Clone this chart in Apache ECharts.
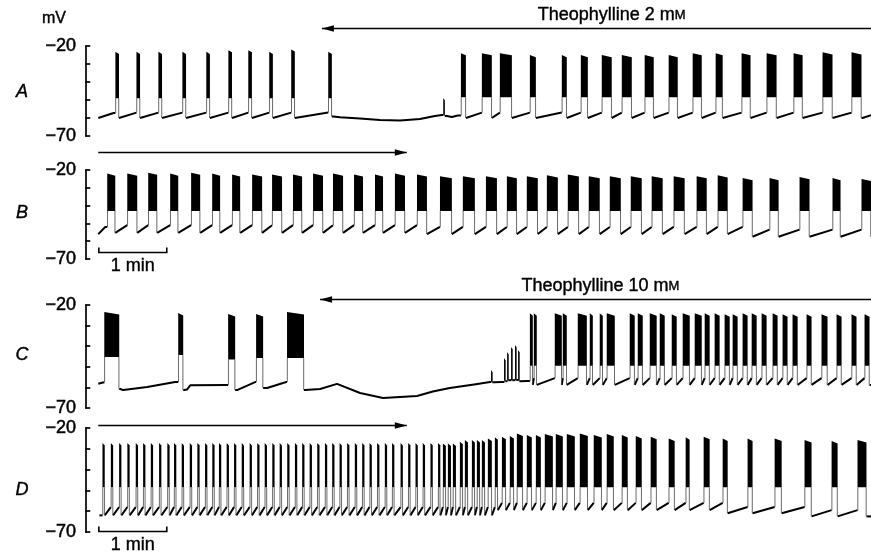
<!DOCTYPE html>
<html><head><meta charset="utf-8">
<script src="https://cdn.jsdelivr.net/npm/echarts/dist/echarts.min.js"></script>
<style>html,body{margin:0;padding:0;background:#fff}#c{width:871px;height:554px}</style>
</head><body><div id="c"></div>
<script>
// ---------- time axis (s) ----------
const X_MIN = -2, X_MAX = 694;
const Y_MIN = -70, Y_MAX = -20;

// ---------- Panel A (theophylline 2 mM applied) ----------
const A_start = [26.6, 45.2, 64.6, 85.8, 106.9, 126.4, 144.0, 162.5, 181.9, 214.6, 316.2, 331.8, 350.3, 366.2, 392.7, 420.9, 437.7, 456.2, 473.9, 494.1, 515.3, 536.5, 556.8, 579.7, 601.8, 625.6, 651.2, 676.8];
const A_end   = [29.8, 48.4, 67.8, 89.0, 110.1, 129.6, 147.2, 165.7, 185.1, 217.8, 317.6, 336.2, 359.1, 376.8, 398.0, 425.3, 443.9, 465.0, 482.7, 502.1, 523.3, 544.5, 563.0, 587.6, 610.6, 633.6, 660.0, 685.6];
const A_peak  = [-23.2, -23.2, -23.2, -23.2, -23.2, -22.3, -22.3, -23.2, -21.9, -23.2, -49, -24, -24, -24, -25, -25, -25, -25, -25, -25, -25, -24, -24, -24, -24, -24, -23.5, -23.5];
const A_floor = [-49, -49, -49, -49, -49, -49, -49, -49, -49, -49, -58.5, -48.5, -48.5, -48.5, -48.5, -48.5, -48.5, -48.5, -48.5, -48.5, -48.5, -48.5, -48.5, -48.5, -48.5, -48.5, -48.5, -48.5];
const A_levels = [[0, -60, -57]];            // [from t, nadir after burst, level before next burst]
const A_quiet = [[11.5, -60], [25, -57.2],
  [219, -59.2], [225, -59.6], [242.6, -60.3], [260.3, -61.1], [278, -61.4], [295.6, -60.6], [308.8, -58.9], [315, -58.3],
  [319.4, -58.9], [323.8, -59.4], [329, -58.6],
  [686.5, -60], [694, -58.5]];

// ---------- Panel B (wash) ----------
const B_start = [19.4, 37.1, 55.6, 75.0, 93.5, 112.1, 129.7, 147.4, 165.0, 183.5, 201.2, 218.8, 237.4, 255.9, 273.5, 293.0, 313.3, 333.5, 353.9, 372.4, 390.0, 407.7, 426.2, 444.7, 463.3, 481.8, 500.3, 519.7, 540.0, 558.6, 580.6, 604.4, 630.9, 660.0, 685.6];
const B_end   = [26.5, 45.9, 63.5, 82.1, 101.5, 119.1, 136.8, 156.2, 173.8, 191.5, 210.0, 227.7, 245.3, 263.0, 282.4, 301.8, 323.8, 344.1, 363.6, 381.2, 399.7, 417.4, 436.0, 454.4, 473.0, 491.5, 510.0, 529.4, 548.9, 567.4, 589.4, 612.4, 639.7, 667.1, 694];
const B_peak  = [-22, -22, -21.5, -22, -21.5, -22, -22.5, -22.5, -22.5, -22.5, -22, -22, -22.5, -22.5, -22, -22.5, -23.5, -23.5, -23.5, -23.5, -23.5, -23, -22.5, -23.5, -23.5, -23.5, -23.5, -23.5, -23.5, -23, -24.5, -24.5, -24, -24.5, -25];
const B_floor = -43;
const B_levels = [[0, -55.3, -51], [300, -56, -52], [580, -57.5, -53.5]];
const B_quiet = [[11.5, -56], [17.6, -52]];

// ---------- Panel C (theophylline 10 mM applied) ----------
const C_start = [16.8, 82.1, 126.2, 150.9, 178.2,
  358.7, 370.2, 372.9, 376.4, 379.9, 382.6,
  392.7, 396.2, 414.7, 421.8, 435.0, 445.6, 454.4, 460.6, 480.9, 488.0, 498.6, 507.4, 518.0, 527.7, 538.3, 547.1, 555.9, 564.7, 571.8, 580.6, 588.6, 597.4, 607.1, 615.9, 624.7, 637.1, 650.3, 663.6, 676.8, 688.3];
const C_end   = [30.0, 86.5, 132.4, 157.1, 193.2,
  359.5, 371.0, 373.7, 377.2, 380.7, 383.4,
  395.3, 398.8, 420.9, 425.3, 443.0, 448.3, 457.1, 467.7, 485.3, 492.4, 504.7, 511.8, 522.4, 533.9, 544.5, 551.5, 560.3, 569.2, 576.2, 585.0, 593.0, 601.8, 611.5, 620.3, 629.2, 641.5, 655.6, 668.0, 681.2, 692.7];
const C_peak  = [-23.4, -23.9, -24.4, -24.4, -23.4,
  -51.6, -45.7, -42.8, -40.4, -39.4, -41.8,
  -24, -24, -24, -24, -24, -24, -24, -24, -24, -24, -24, -24, -24.5, -24, -24, -24, -24, -24.5, -24.5, -24, -24, -24, -24, -24.5, -24.5, -24.5, -24.5, -24.5, -24.5, -24.5];
const C_floor = [-45.2, -44.3, -46.5, -45.7, -45.7,
  -57.2, -56.8, -56.6, -56.5, -56.4, -56.6,
  -49.5, -49.5, -49.5, -49.5, -49.5, -49.5, -49.5, -49.5, -49.5, -49.5, -49.5, -49.5, -49.5, -49.5, -49.5, -49.5, -49.5, -49.5, -49.5, -49.5, -49.5, -49.5, -49.5, -49.5, -49.5, -49.5, -49.5, -49.5, -49.5, -49.5];
const C_levels = [[0, -61, -57.5], [390, -58.8, -55.5]];
const C_quiet = [[11.5, -58.2], [15.5, -57.6],
  [31, -60.8], [33.5, -61.3], [54.7, -59.8], [79.4, -57.4],
  [87.4, -61.3], [90, -61], [92.7, -59], [125.3, -58.8],
  [134.1, -61.3], [150, -57.4],
  [160.6, -60.3], [177.5, -57.4],
  [194.1, -61.3], [207.4, -60.8], [222.4, -58.3], [242.7, -62.7], [263, -65.1], [293, -64.2], [307, -62], [322, -60.3], [345, -58.5], [357.4, -57.4],
  [361, -57.5], [368, -57.4], [371.5, -57], [374.5, -56.5], [378, -56.5], [381.5, -56.4], [384, -57], [390, -56.9]];

// ---------- Panel D (wash) ----------
const D_spikeTimes = [16.2, 23.6, 30.9, 38.2, 45.6, 52.1, 58.9, 66.2, 73.5, 79.4, 86.2, 93.3, 100.0, 106.8, 113.2, 119.1, 125.9, 132.4, 139.2, 146.2, 152.9, 159.5, 166.2, 172.7, 179.4, 186.2, 192.6, 199.2, 205.9, 212.7, 219.1, 225.6, 232.3, 239.1, 245.6, 252.1, 258.8, 265.6, 272.0, 279.5, 286.2, 292.7, 299.1, 305.9, 312.6];
const D_spikeWidth = 2.0;
const D_spikePeak = -27.2;
const D_start = [315.9, 320.3, 324.7, 330.9, 335.3, 341.5, 345.9, 350.3, 355.6, 361.8, 368.0, 375.0, 381.2, 390.0, 398.0, 405.9, 415.6, 425.3, 436.8, 449.1, 460.6, 473.9, 486.2, 499.4, 515.3, 530.3, 546.2, 563.0, 585.0, 608.9, 635.3, 659.2, 682.1];
const D_end   = [318.5, 323.0, 327.4, 333.5, 338.0, 344.1, 348.6, 353.0, 359.1, 364.4, 371.5, 378.6, 386.5, 394.4, 402.4, 413.0, 421.8, 432.4, 443.9, 456.2, 466.8, 479.1, 491.5, 504.7, 520.6, 533.8, 551.5, 567.4, 589.4, 615.1, 641.5, 664.5, 690.0];
const D_peak  = [-27.4, -27.4, -27.4, -26.6, -25.8, -25.8, -25.8, -25.8, -25, -24.5, -24.2, -23.8, -22.6, -23.4, -23.4, -22.9, -22.9, -22.9, -22.6, -23.4, -22.9, -23.4, -23.8, -24.2, -25, -24.5, -24.2, -25, -25, -25, -25.8, -26.2, -25.8];
const D_floor = -48.5;
const D_levels = [[0, -62, -58], [360, -59.5, -56], [560, -61, -58], [640, -62.5, -59.5]];
const D_quiet = [[12.5, -62], [15.5, -58.5]];

// ---------- annotations (times in s, levels in mV of the panel) ----------
const arrowFrom  = [209, 11.5, 207.4, 11.5];
const arrowTo    = [694, 284, 694, 284];
const arrowLevel = [-10, -10, -17.1, -18.6];
const arrowHead  = ['left', 'right', 'left', 'right'];
const drugText   = ['Theophylline 2 m', '', 'Theophylline 10 m', ''];
const drugTextAt = [465, 0, 455, 0];
const scaleBarPanels = [1, 3];
const scaleBarSec = [12, 72];
const scaleBarLevel = [-66, -69.3];
const panelNames = ['A', 'B', 'C', 'D'];

// ---------- build ----------
const FONT = '"Liberation Sans", Arial, Helvetica, sans-serif';
const pick = (v, i) => Array.isArray(v) ? v[i] : v;
function levelAt(levels, t) { let L = levels[0]; for (const l of levels) if (l[0] <= t) L = l; return L; }

function buildPanel(p) {
  const n = p.start.length, q = p.quiet, segs = [], nad = [], pre = [];
  const before = q.filter(pt => pt[0] < p.start[0]);
  let pre0 = levelAt(p.levels, p.start[0])[2];
  if (before.length) {
    pre0 = before[before.length - 1][1];
    segs.push(before.concat([[p.start[0], pre0]]));
  }
  pre.push(pre0);
  for (let i = 0; i < n; i++) {
    const e = p.end[i], last = i + 1 >= n, s = last ? X_MAX + 1 : p.start[i + 1];
    const inside = q.filter(pt => pt[0] > e && pt[0] < s);
    const L = levelAt(p.levels, e);
    let seg;
    if (inside.length) {
      seg = [[e, inside[0][1]]].concat(inside);
      if (!last) seg.push([s, inside[inside.length - 1][1]]);
    } else {
      seg = last ? [[e, L[1]], [X_MAX, L[1]]] : [[e, L[1]], [s, L[2]]];
    }
    segs.push(seg);
    nad.push(seg[0][1]);
    if (!last) pre.push(seg[seg.length - 1][1]);
  }
  const bursts = [];
  for (let i = 0; i < n; i++) bursts.push([p.start[i], p.end[i], pick(p.peak, i), pick(p.floor, i), nad[i], pre[i]]);
  return { bursts, segs };
}

// merge D spikes and bursts
const D_allStart = D_spikeTimes.map(t => +(t - D_spikeWidth / 2).toFixed(2)).concat(D_start);
const D_allEnd = D_spikeTimes.map(t => +(t + D_spikeWidth / 2).toFixed(2)).concat(D_end);
const D_allPeak = D_spikeTimes.map(() => D_spikePeak).concat(D_peak);

const panels = [
  { start: A_start, end: A_end, peak: A_peak, floor: A_floor, levels: A_levels, quiet: A_quiet, top: 46, height: 90 },
  { start: B_start, end: B_end, peak: B_peak, floor: B_floor, levels: B_levels, quiet: B_quiet, top: 170, height: 89 },
  { start: C_start, end: C_end, peak: C_peak, floor: C_floor, levels: C_levels, quiet: C_quiet, top: 305, height: 103 },
  { start: D_allStart, end: D_allEnd, peak: D_allPeak, floor: D_floor, levels: D_levels, quiet: D_quiet, top: 428, height: 104 }
];

const grid = [], xAxis = [], yAxis = [], series = [];
panels.forEach((p, k) => {
  const built = buildPanel(p);
  grid.push({ left: 83, right: 0, top: p.top, height: p.height });
  xAxis.push({ gridIndex: k, type: 'value', min: X_MIN, max: X_MAX, show: false });
  yAxis.push({
    gridIndex: k, type: 'value', min: Y_MIN, max: Y_MAX, interval: 10,
    axisLine: { show: true, lineStyle: { color: '#000', width: 1.7 } },
    axisTick: { show: true, inside: true, length: 5, lineStyle: { color: '#000', width: 1.7 } },
    splitLine: { show: false },
    axisLabel: {
      show: true, margin: 7, color: '#000', fontSize: 18, fontFamily: FONT,
      textBorderColor: '#000', textBorderWidth: 0.5,
      formatter: v => (v === Y_MAX || v === Y_MIN) ? '\u2212' + Math.abs(v) : ''
    }
  });
  const segs = built.segs;
  series.push({
    type: 'custom', xAxisIndex: k, yAxisIndex: k, clip: true, silent: true, z: 2,
    data: segs.map((sg, i) => [sg[0][0], sg[sg.length - 1][0], sg[0][1], i]),
    encode: { x: [0, 1], y: 2 },
    renderItem: (params, api) => {
      const sg = segs[params.dataIndex];
      return { type: 'polyline', shape: { points: sg.map(pt => api.coord(pt)) },
        style: { stroke: '#000', lineWidth: 2, fill: null, lineJoin: 'round' } };
    }
  });
  series.push({
    type: 'custom', xAxisIndex: k, yAxisIndex: k, clip: true, silent: true, z: 3,
    data: built.bursts, encode: { x: [0, 1], y: [2, 3] },
    renderItem: (params, api) => {
      const s = api.value(0), e = api.value(1), pk = api.value(2), fl = api.value(3), nd = api.value(4), pr = api.value(5);
      const a = api.coord([s, fl]), b = api.coord([s, pk]), c = api.coord([e, pk - 1.2]), d = api.coord([e, fl]);
      if (d[0] - a[0] < 1.6) { const m = (a[0] + d[0]) / 2; a[0] = b[0] = m - 0.8; c[0] = d[0] = m + 0.8; }
      const ps = api.coord([s, pr]), pe = api.coord([e, nd]);
      return { type: 'group', children: [
        { type: 'line', shape: { x1: a[0] + 0.3, y1: ps[1], x2: a[0] + 0.3, y2: a[1] }, style: { stroke: '#444', lineWidth: 0.8 } },
        { type: 'line', shape: { x1: d[0] - 0.3, y1: d[1], x2: d[0] - 0.3, y2: pe[1] }, style: { stroke: '#444', lineWidth: 0.8 } },
        { type: 'polygon', shape: { points: [a, b, c, d] }, style: { fill: '#000' } }
      ] };
    }
  });
});

const chart = echarts.init(document.getElementById('c'), null, { renderer: 'canvas' });
chart.setOption({ animation: false, backgroundColor: '#fff', grid, xAxis, yAxis, series });

// ---------- annotations as graphic ----------
const px = (k, t, v) => chart.convertToPixel({ gridIndex: k }, [t, v]);
const g = [];
g.push({ type: 'text', x: 54, y: 19, style: { text: 'mV', font: '16px ' + FONT, fill: '#000', stroke: '#000', lineWidth: 0.4, align: 'center', verticalAlign: 'middle' } });
const letterY = [92, 213, 355, 490];
panelNames.forEach((n, k) => g.push({ type: 'text', x: 22, y: letterY[k],
  style: { text: n, font: 'italic 18px ' + FONT, fill: '#000', stroke: '#000', lineWidth: 0.4, align: 'center', verticalAlign: 'middle' } }));
for (let k = 0; k < 4; k++) {
  const p1 = px(k, arrowFrom[k], arrowLevel[k]), p2 = px(k, arrowTo[k], arrowLevel[k]);
  const y = Math.round(p1[1]) + 0.5;
  g.push({ type: 'line', shape: { x1: p1[0], y1: y, x2: p2[0], y2: y }, style: { stroke: '#000', lineWidth: 1.7 } });
  const hx = arrowHead[k] === 'left' ? p1[0] : p2[0], dir = arrowHead[k] === 'left' ? 1 : -1;
  g.push({ type: 'polygon', shape: { points: [[hx, y], [hx + dir * 12, y - 3.2], [hx + dir * 12, y + 3.2]] }, style: { fill: '#000' } });
  if (drugText[k]) {
    const tp = px(k, drugTextAt[k], arrowLevel[k]);
    g.push({ type: 'text', x: tp[0], y: y - 13, style: {
      text: '{a|' + drugText[k] + '}{b|M}', align: 'center', verticalAlign: 'middle',
      rich: { a: { fontSize: 18, fontFamily: FONT, fill: '#000', stroke: '#000', lineWidth: 0.4 },
              b: { fontSize: 13, fontFamily: FONT, fill: '#000', stroke: '#000', lineWidth: 0.4 } } } });
  }
}
scaleBarPanels.forEach((k, j) => {
  const a = px(k, scaleBarSec[0], scaleBarLevel[j]), b = px(k, scaleBarSec[1], scaleBarLevel[j]);
  const y = Math.round(a[1]) + 0.5;
  g.push({ type: 'polyline', shape: { points: [[a[0], y - 5], [a[0], y], [b[0], y], [b[0], y - 5]] }, style: { stroke: '#000', lineWidth: 1.6, fill: null } });
  g.push({ type: 'text', x: (a[0] + b[0]) / 2, y: y + 14, style: { text: '1 min', font: '18px ' + FONT, fill: '#000', stroke: '#000', lineWidth: 0.4, align: 'center', verticalAlign: 'middle' } });
});
chart.setOption({ graphic: g });
</script></body></html>
